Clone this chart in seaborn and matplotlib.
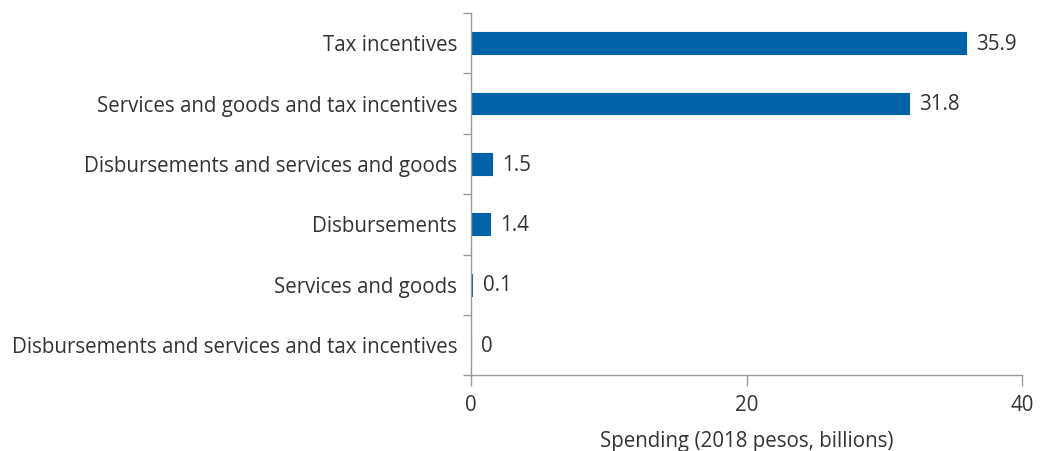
import matplotlib
matplotlib.use("Agg")
import matplotlib.pyplot as plt
import seaborn as sns
import pandas as pd
import numpy as np

categories = [
    "Tax incentives",
    "Services and goods and tax incentives",
    "Disbursements and services and goods",
    "Disbursements",
    "Services and goods",
    "Disbursements and services and tax incentives",
]
values = [35.9, 31.8, 1.5, 1.4, 0.1, 0]
labels = ["35.9", "31.8", "1.5", "1.4", "0.1", "0"]
xticks = [0, 20, 40]

df = pd.DataFrame({"category": categories, "value": values})

sns.set_style("white")
plt.rcParams["font.family"] = ["Open Sans", "DejaVu Sans"]
gray = "#9a9a9a"
text_color = "#333333"
fs = 14.8

fig = plt.figure(figsize=(10.42, 4.51), dpi=100)
ax = fig.add_axes([0.452, 0.168, 0.529, 0.803])

sns.barplot(data=df, x="value", y="category", color="#0062A9", width=0.36,
            saturation=1, edgecolor="#0062A9", linewidth=0.8, ax=ax)

# value labels to the right of each bar
for i, (v, lab) in enumerate(zip(values, labels)):
    ax.text(v + 0.75, i + 0.02, lab, va="center", ha="left", fontsize=fs, color=text_color)

ax.set_xlim(0, 40)
ax.set_ylim(5.5, -0.5)
ax.set_xticks(xticks)
ax.set_xticklabels([str(t) for t in xticks], fontsize=fs, color=text_color)
ax.tick_params(axis="y", which="major", left=False, length=0, pad=10,
               labelsize=fs, labelcolor=text_color)
ax.set_yticks(np.arange(-0.5, len(categories)), minor=True)
ax.tick_params(axis="y", which="minor", left=True, length=6, color=gray, width=1)
ax.tick_params(axis="x", which="major", bottom=True, length=8, color=gray, width=1,
               direction="out", pad=6)
ax.set_ylabel("")
ax.set_xlabel("Spending (2018 pesos, billions)", fontsize=fs, color=text_color, labelpad=11)

for side in ["top", "right"]:
    ax.spines[side].set_visible(False)
for side in ["left", "bottom"]:
    ax.spines[side].set_color(gray)
    ax.spines[side].set_linewidth(1)

fig.savefig("out.png", dpi=100)
